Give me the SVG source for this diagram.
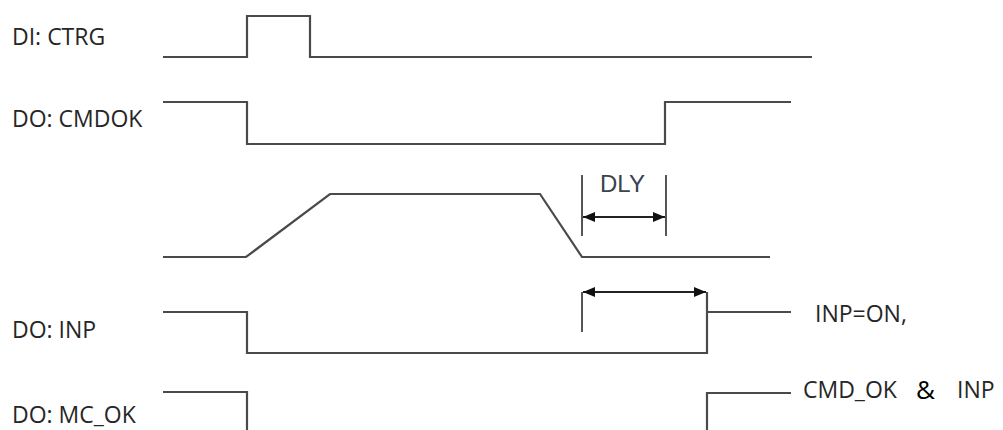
<svg xmlns="http://www.w3.org/2000/svg" width="1003" height="430" viewBox="0 0 1003 430">
<defs>
<style>
.w{fill:none;stroke:#4a4a4a;stroke-width:2.2;stroke-linejoin:miter}
.d{fill:none;stroke:#555;stroke-width:2}
.a{fill:none;stroke:#222;stroke-width:2}
.lb{font-family:"Open Sans","Noto Sans",sans-serif;font-size:23px;fill:#262626}
.dl{font-family:"Liberation Sans",Arial,sans-serif;font-size:24px;fill:#3a4350}
</style>
<marker id="ah" viewBox="0 0 12 10" refX="12" refY="5" markerWidth="12" markerHeight="10" markerUnits="userSpaceOnUse" orient="auto-start-reverse">
<path d="M0,0 L12,5 L0,10 Z" fill="#111"/>
</marker>
</defs>
<rect width="1003" height="430" fill="#fff"/>
<g id="ctrg">
<text class="lb" x="12" y="45">DI: CTRG</text>
<path class="w" d="M163,57 H247 V16 H310 V57 H812"/>
</g>
<g id="cmdok">
<text class="lb" x="12" y="127">DO: CMDOK</text>
<path class="w" d="M163,102 H247 V144 H665 V102 H791"/>
</g>
<g id="speed">
<path class="w" d="M163,257 H246 L330,194 H540 L582,257 H770"/>
</g>
<g id="inp">
<text class="lb" x="12" y="338">DO: INP</text>
<path class="w" d="M163,312 H247 V353 H707 V292"/>
<path class="w" d="M707,312 H791"/>
<text class="lb" x="815" y="322">INP=ON,</text>
</g>
<g id="mcok">
<text class="lb" x="12" y="423">DO: MC_OK</text>
<path class="w" d="M163,392 H247 V432"/>
<path class="w" d="M791,393 H707 V432"/>
<text class="lb" x="803" y="398">CMD_OK</text>
<text class="lb" x="916" y="399" style="fill:#000;font-size:26px">&amp;</text>
<text class="lb" x="957" y="398">INP</text>
</g>
<g id="connectors">
<path class="d" d="M582,175 V236 M666,175 V236"/>
<path class="a" d="M583,217 H665" marker-start="url(#ah)" marker-end="url(#ah)"/>
<text class="dl" x="600" y="192">DLY</text>
<path class="d" d="M582,292 V332"/>
<path class="a" d="M583,292 H706" marker-start="url(#ah)" marker-end="url(#ah)"/>
</g>
</svg>
